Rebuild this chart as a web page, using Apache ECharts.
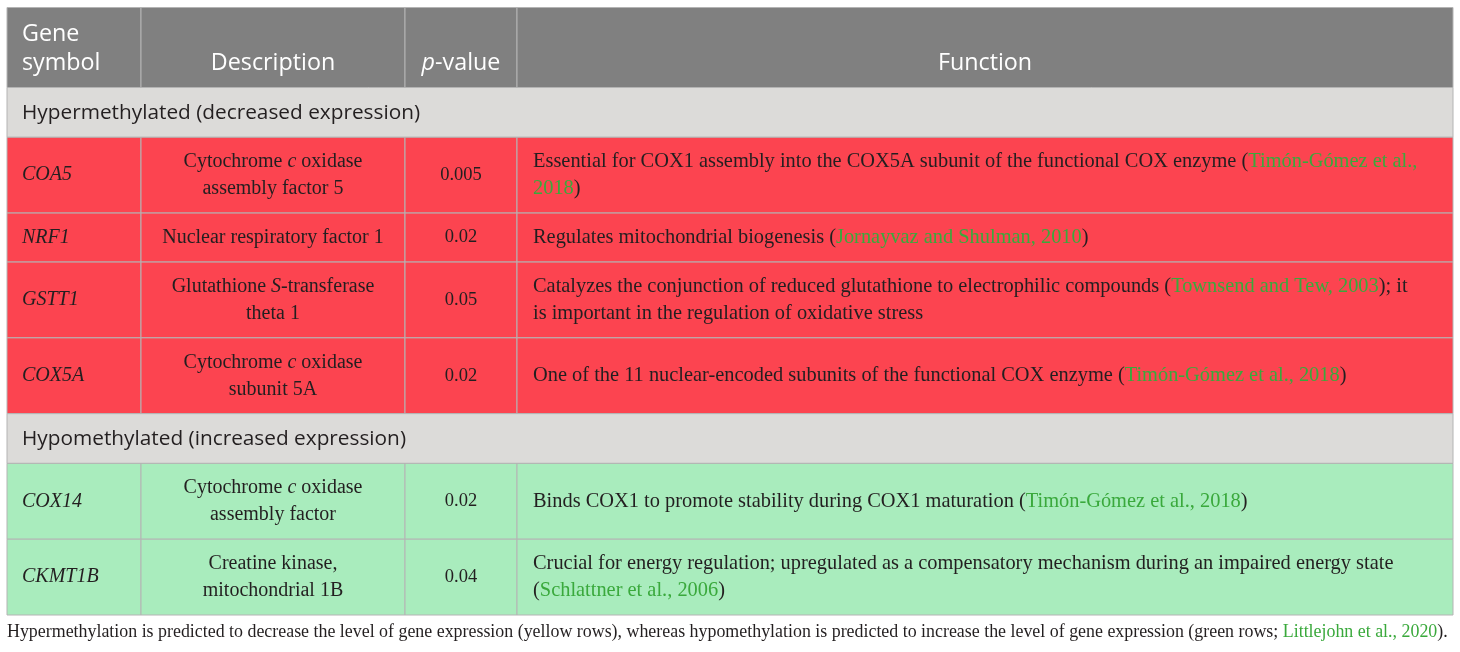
<!DOCTYPE html>
<html><head><meta charset="utf-8">
<script src="https://cdn.jsdelivr.net/npm/echarts@6/dist/echarts.min.js"></script>
<style>html,body{margin:0;padding:0;background:#fff}#c{width:1460px;height:652px}</style>
</head><body><div id="c"></div>
<script>
// ---- data ----
const headers = ['Gene\nsymbol', 'Description', '{pi|p}-value', 'Function'];
const sectionLabels = ['Hypermethylated (decreased expression)', 'Hypomethylated (increased expression)'];
const groups = [0, 0, 0, 0, 1, 1];
const genes = ['COA5', 'NRF1', 'GSTT1', 'COX5A', 'COX14', 'CKMT1B'];
const descriptions = [
  'Cytochrome {i|c} oxidase\nassembly factor 5',
  'Nuclear respiratory factor 1',
  'Glutathione {i|S}-transferase\ntheta 1',
  'Cytochrome {i|c} oxidase\nsubunit 5A',
  'Cytochrome {i|c} oxidase\nassembly factor',
  'Creatine kinase,\nmitochondrial 1B'
];
const pValues = ['0.005', '0.02', '0.05', '0.02', '0.02', '0.04'];
const functions = [
  'Essential for COX1 assembly into the COX5A subunit of the functional COX enzyme ({g|Timón-Gómez et al.,}\n{g|2018})',
  'Regulates mitochondrial biogenesis ({g|Jornayvaz and Shulman, 2010})',
  'Catalyzes the conjunction of reduced glutathione to electrophilic compounds ({g|Townsend and Tew, 2003}); it\nis important in the regulation of oxidative stress',
  'One of the 11 nuclear-encoded subunits of the functional COX enzyme ({g|Timón-Gómez et al., 2018})',
  'Binds COX1 to promote stability during COX1 maturation ({g|Timón-Gómez et al., 2018})',
  'Crucial for energy regulation; upregulated as a compensatory mechanism during an impaired energy state\n({g|Schlattner et al., 2006})'
];
const footnote = 'Hypermethylation is predicted to decrease the level of gene expression (yellow rows), whereas hypomethylation is predicted to increase the level of gene expression (green rows; {g|Littlejohn et al., 2020}).';

// ---- layout / style ----
const COLS = [0, 134, 398, 510, 1446];
const H_HEADER = 80, H_SECTION = 49.75, H_ONE = 49, H_TWO = 75.8;
const FILLS = { header: '#808080', section: '#dcdbd9', 0: '#fc4450', 1: '#a9ecbd' };
const STROKE = '#b4b4b4';
const SERIF = "'Liberation Serif', 'DejaVu Serif', serif";
const SANS = "'Open Sans', 'Noto Sans', sans-serif";
const INK = '#231f20';
const LINK = '#3aa93c';

const rows = [{ kind: 'header', h: H_HEADER }];
let prev = -1;
genes.forEach((g, i) => {
  if (groups[i] !== prev) { rows.push({ kind: 'section', g: groups[i], h: H_SECTION }); prev = groups[i]; }
  const lines = Math.max(descriptions[i].split('\n').length, functions[i].split('\n').length);
  rows.push({ kind: 'body', i: i, h: lines > 1 ? H_TWO : H_ONE });
});
let acc = 0;
rows.forEach(r => { r.y0 = acc; acc += r.h; r.y1 = acc; });
const TOTAL = acc;

function serifStyle(size, extra) {
  return Object.assign({ fill: INK, fontFamily: SERIF, fontSize: size, lineHeight: 27 }, extra || {});
}
function bodyStyle(size) {
  return Object.assign(serifStyle(size), {
    rich: {
      i: serifStyle(size, { fontStyle: 'italic' }),
      g: serifStyle(size, { fill: LINK })
    }
  });
}
const HS = 23.3;
const headStyle = {
  fill: '#ffffff', fontFamily: SANS, fontSize: HS, lineHeight: 29,
  rich: { pi: { fill: '#ffffff', fontFamily: SANS, fontSize: HS, lineHeight: 29, fontStyle: 'italic' } }
};

function renderItem(params, api) {
  const r = rows[params.dataIndex];
  const p = (x, y) => api.coord([x, y]);
  const children = [];
  const rect = (x0, x1, fill) => {
    const a = p(x0, r.y0), b = p(x1, r.y1);
    return { type: 'rect', shape: { x: a[0], y: a[1], width: b[0] - a[0], height: b[1] - a[1] },
      style: { fill: fill, stroke: STROKE, lineWidth: 1 } };
  };
  const text = (x, y, t, align, st) => {
    const c = p(x, y);
    return { type: 'text', x: c[0], y: c[1], z2: 10,
      style: Object.assign({ text: t, align: align, verticalAlign: 'middle' }, st) };
  };
  const midY = (r.y0 + r.y1) / 2;
  const colMid = k => (COLS[k] + COLS[k + 1]) / 2;
  if (r.kind === 'header') {
    for (let k = 0; k < 4; k++) children.push(rect(COLS[k], COLS[k + 1], FILLS.header));
    children.push(text(15, midY + 1.5, headers[0], 'left', headStyle));
    for (let k = 1; k < 4; k++) children.push(text(colMid(k), r.y0 + 55.5, headers[k], 'center', headStyle));
  } else if (r.kind === 'section') {
    children.push(rect(COLS[0], COLS[4], FILLS.section));
    children.push(text(15, midY + 0.5, sectionLabels[r.g], 'left',
      { fill: INK, fontFamily: SANS, fontSize: 20.8 }));
  } else {
    const i = r.i, fill = FILLS[groups[i]];
    for (let k = 0; k < 4; k++) children.push(rect(COLS[k], COLS[k + 1], fill));
    children.push(text(15, midY, genes[i], 'left', serifStyle(20, { fontStyle: 'italic' })));
    children.push(text(colMid(1), midY, descriptions[i], 'center', bodyStyle(20)));
    children.push(text(colMid(2), midY, pValues[i], 'center', serifStyle(18.5)));
    children.push(text(526, midY, functions[i], 'left', bodyStyle(20.4)));
  }
  return { type: 'group', children: children };
}

const chart = echarts.init(document.getElementById('c'));
chart.setOption({
  animation: false,
  backgroundColor: '#ffffff',
  title: {
    text: footnote, left: 7, top: 623, padding: 0,
    textStyle: { fontFamily: SERIF, fontSize: 17.9, fontWeight: 'normal', color: INK,
      rich: { g: { fontFamily: SERIF, fontSize: 17.9, color: LINK } } }
  },
  grid: { left: 7, right: 7, top: 7.5, bottom: 652 - 7.5 - TOTAL },
  xAxis: { type: 'value', min: 0, max: COLS[4], show: false },
  yAxis: { type: 'value', min: 0, max: TOTAL, inverse: true, show: false },
  series: [{
    type: 'custom', clip: false, silent: true,
    renderItem: renderItem,
    encode: { x: 0, y: 1 },
    data: rows.map(r => [0, r.y0])
  }]
});
</script></body></html>
